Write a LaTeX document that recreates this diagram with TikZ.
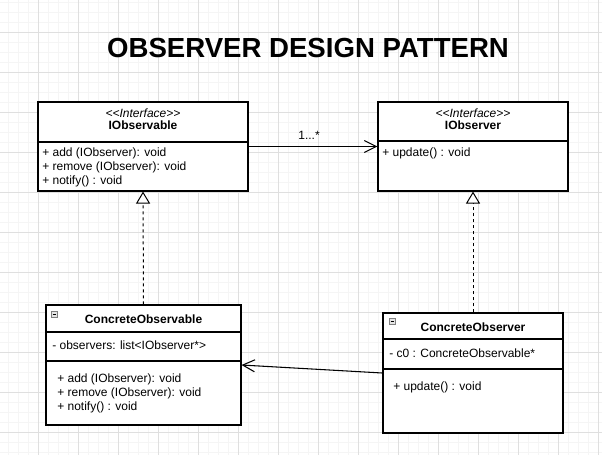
\documentclass[tikz,border=0pt]{standalone}
\usepackage{fontspec}
\setmainfont{Liberation Sans}
\usetikzlibrary{arrows.meta}

\begin{document}
\begin{tikzpicture}[x=0.75pt, y=-0.75pt,
    umlbox/.style={draw, line width=0.8pt, fill=white, inner sep=0pt},
    member/.style={anchor=west, inner sep=0pt, font=\fontsize{9}{11}\selectfont},
    classname/.style={inner sep=0pt, font=\fontsize{9}{11}\selectfont\bfseries},
    stereo/.style={inner sep=0pt, font=\fontsize{9}{11}\selectfont\itshape},
    realize/.style={dash pattern=on 2.25pt off 2.25pt, line width=0.75pt, -{Triangle[open, length=9pt, width=10.5pt, fill=white]}},
    assoc/.style={line width=0.8pt, -{Straight Barb[length=9pt, width=9pt]}},
    minusbox/.style={draw=gray, fill=gray!20, line width=0.4pt}]

    \useasboundingbox (0,0) rectangle (602,455);

    % draw grid
    \foreach \x in {8,18,...,598} \draw[gray!8, line width=0.6pt] (\x,0) -- (\x,455);
    \foreach \y in {2,12,...,452} \draw[gray!8, line width=0.6pt] (0,\y) -- (602,\y);
    \foreach \x in {38,78,...,598} \draw[gray!25, line width=0.6pt] (\x,0) -- (\x,455);
    \foreach \y in {32,72,...,432} \draw[gray!25, line width=0.6pt] (0,\y) -- (602,\y);

    % title
    \node[font=\fontsize{20.7}{24}\selectfont\bfseries] (title) at (308,48) {OBSERVER DESIGN PATTERN};

    % draw boxes
    \node[umlbox, minimum width=157.5pt, minimum height=66.75pt] (iobsable) at (143,146.5) {};
    \node[umlbox, minimum width=142.5pt, minimum height=66.75pt] (iobserver) at (473,146.5) {};
    \node[umlbox, minimum width=146.25pt, minimum height=90pt] (cobsable) at (143.5,365) {};
    \node[umlbox, minimum width=135pt, minimum height=90pt] (cobserver) at (473,373) {};

    % dividers
    \draw[line width=0.8pt] (iobsable.west |- 0,142) -- (iobsable.east |- 0,142);
    \draw[line width=0.8pt] (iobserver.west |- 0,141) -- (iobserver.east |- 0,141);
    \draw[line width=0.8pt] (cobsable.west |- 0,332) -- (cobsable.east |- 0,332);
    \draw[line width=0.8pt] (cobsable.west |- 0,361) -- (cobsable.east |- 0,361);
    \draw[line width=0.8pt] (cobserver.west |- 0,339) -- (cobserver.east |- 0,339);
    \draw[line width=0.8pt] (cobserver.west |- 0,369) -- (cobserver.east |- 0,369);

    % collapse icons
    \draw[minusbox] (51,311) rectangle (57,317);
    \draw[line width=0.5pt] (52.5,314) -- (55.5,314);
    \draw[minusbox] (389,318) rectangle (395,324);
    \draw[line width=0.5pt] (390.5,321) -- (393.5,321);

    % IObservable
    \node[stereo] (iobsableS) at (143,113) {{<}{<}Interface{>}{>}};
    \node[classname] (iobsableN) at (143,125) {IObservable};
    \node[member] (iobsableA) at (42,153) {+ add (IObserver): void};
    \node[member] (iobsableR) at (42,167.5) {+ remove (IObserver): void};
    \node[member] (iobsableU) at (42,181.5) {+ notify() : void};

    % IObserver
    \node[stereo] (iobserverS) at (473,113) {{<}{<}Interface{>}{>}};
    \node[classname] (iobserverN) at (473,125) {IObserver};
    \node[member] (iobserverU) at (382,153) {+ update() : void};

    % ConcreteObservable
    \node[classname] (cobsableN) at (143.5,319) {ConcreteObservable};
    \node[member] (cobsableL) at (52,345) {- observers: list<IObserver*>};
    \node[member] (cobsableA) at (57,379) {+ add (IObserver): void};
    \node[member] (cobsableR) at (57,393) {+ remove (IObserver): void};
    \node[member] (cobsableU) at (57,407) {+ notify() : void};

    % ConcreteObserver
    \node[classname] (cobserverN) at (473,327) {ConcreteObserver};
    \node[member] (cobserverC) at (389,353) {- c0 : ConcreteObservable*};
    \node[member] (cobserverU) at (393,387) {+ update() : void};

    % draw connectors
    \draw[assoc] (iobsable.east) -- node[above=5pt, xshift=-3pt, font=\fontsize{9}{11}\selectfont, inner sep=0pt] {1...*} (iobserver.west);
    \draw[realize] (cobsable.north) -- (iobsable.south);
    \draw[realize] (cobserver.north) -- (iobserver.south);
    \draw[assoc] (cobserver.west) -- (cobsable.east);
\end{tikzpicture}
\end{document}
